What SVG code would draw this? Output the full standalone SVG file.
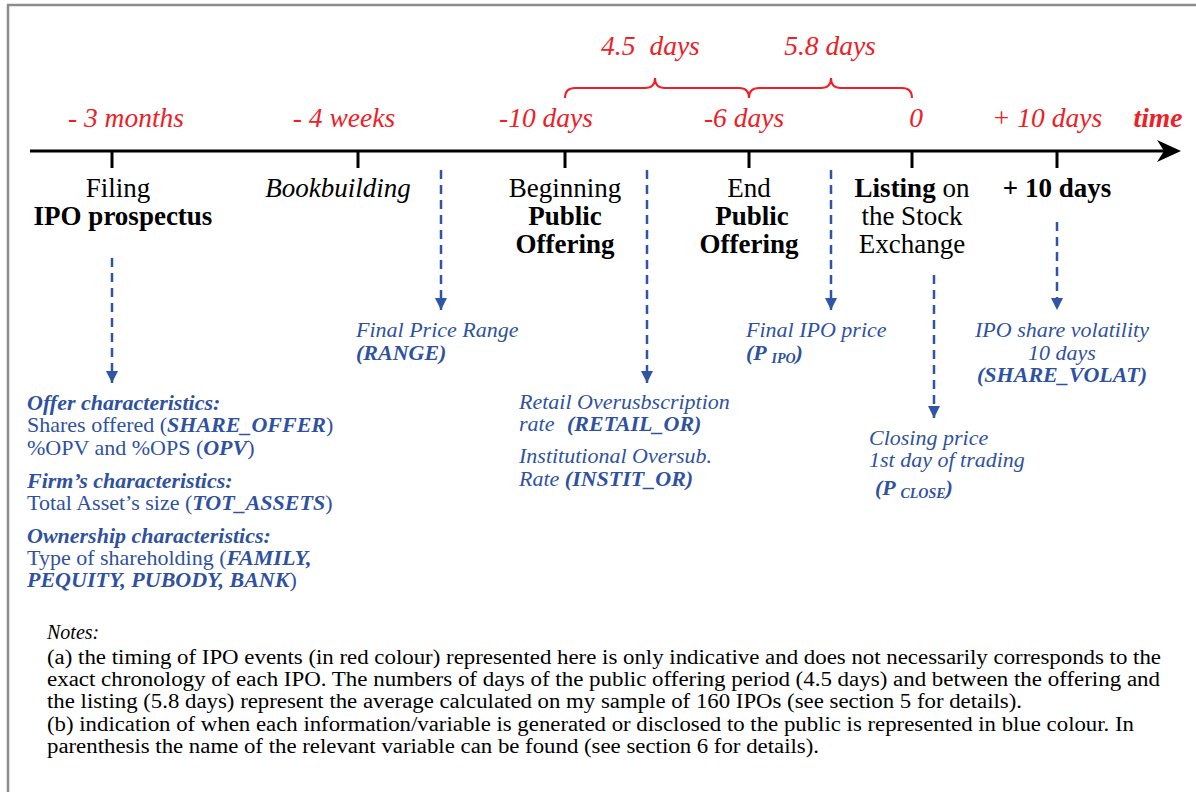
<svg xmlns="http://www.w3.org/2000/svg" width="1196" height="792" viewBox="0 0 1196 792">
<style>
.red{font-family:"Liberation Serif",serif;font-style:italic;font-size:27.5px;fill:#EE2026}
.blk{font-family:"Liberation Serif",serif;font-size:27px;fill:#000}
.b{font-weight:bold}
.i{font-style:italic}
.blu{font-family:"Liberation Serif",serif;font-size:22px;fill:#2F52A0}
.note{font-family:"Liberation Serif",serif;font-size:20px;fill:#000}
.dash{stroke:#2F55A4;stroke-width:2.5;stroke-dasharray:9 6;fill:none}
.tick{stroke:#000;stroke-width:3}
</style>
<defs>
<marker id="ah" viewBox="0 0 10 10" refX="10" refY="5" markerWidth="12" markerHeight="13" markerUnits="userSpaceOnUse" orient="auto">
<path d="M0,0 L10,5 L0,10 Z" fill="#2F55A4"/>
</marker>
</defs>
<rect width="1196" height="792" fill="#fff"/>
<path d="M8,792 L8,5 L1196,5" fill="none" stroke="#8C8C8C" stroke-width="2.5"/>

<g id="timeline">
<line x1="30" y1="151" x2="1168" y2="151" stroke="#000" stroke-width="3"/>
<path d="M1181,151 L1157,140 L1164,151 L1157,162 Z" fill="#000"/>
<line class="tick" x1="112" y1="151" x2="112" y2="168"/>
<line class="tick" x1="358" y1="151" x2="358" y2="168"/>
<line class="tick" x1="565" y1="151" x2="565" y2="168"/>
<line class="tick" x1="749" y1="151" x2="749" y2="168"/>
<line class="tick" x1="912" y1="151" x2="912" y2="168"/>
<line class="tick" x1="1057" y1="151" x2="1057" y2="168"/>
</g>

<g id="red-labels">
<text class="red" x="126" y="127" text-anchor="middle">- 3 months</text>
<text class="red" x="344" y="127" text-anchor="middle">- 4 weeks</text>
<text class="red" x="546" y="127" text-anchor="middle">-10 days</text>
<text class="red" x="744" y="127" text-anchor="middle">-6 days</text>
<text class="red" x="916" y="127" text-anchor="middle">0</text>
<text class="red" x="1047" y="127" text-anchor="middle">+ 10 days</text>
<text class="red b" x="1158" y="127" text-anchor="middle">time</text>
<text class="red" x="601" y="55">4.5<tspan dx="14">days</tspan></text>
<text class="red" x="830" y="55" text-anchor="middle">5.8 days</text>
</g>

<g id="braces">
<path d="M565,98 Q565,88 575,88 L645,88 Q655,88 655,78 Q655,88 665,88 L739,88 Q749,88 749,98 Q749,88 759,88 L821,88 Q831,88 831,78 Q831,88 841,88 L902,88 Q912,88 912,98" fill="none" stroke="#EE2026" stroke-width="2"/>
</g>

<g id="node-filing">
<text class="blk" x="118" y="197" text-anchor="middle">Filing</text>
<text class="blk b" x="123" y="225" text-anchor="middle">IPO prospectus</text>
</g>
<g id="node-bookbuilding">
<text class="blk i" x="338" y="197" text-anchor="middle">Bookbuilding</text>
</g>
<g id="node-beginning">
<text class="blk" x="565" y="197" text-anchor="middle">Beginning</text>
<text class="blk b" x="565" y="225" text-anchor="middle">Public</text>
<text class="blk b" x="565" y="253" text-anchor="middle">Offering</text>
</g>
<g id="node-end">
<text class="blk" x="749" y="197" text-anchor="middle">End</text>
<text class="blk b" x="752" y="225" text-anchor="middle">Public</text>
<text class="blk b" x="749" y="253" text-anchor="middle">Offering</text>
</g>
<g id="node-listing">
<text class="blk" x="912" y="197" text-anchor="middle"><tspan class="b">Listing</tspan> on</text>
<text class="blk" x="912" y="225" text-anchor="middle">the Stock</text>
<text class="blk" x="912" y="253" text-anchor="middle">Exchange</text>
</g>
<g id="node-plus10">
<text class="blk b" x="1057" y="197" text-anchor="middle">+ 10 days</text>
</g>

<g id="connectors">
<line class="dash" x1="112" y1="258" x2="112" y2="383" marker-end="url(#ah)"/>
<line class="dash" x1="441" y1="170" x2="441" y2="310" marker-end="url(#ah)"/>
<line class="dash" x1="647" y1="170" x2="647" y2="383" marker-end="url(#ah)"/>
<line class="dash" x1="831" y1="170" x2="831" y2="310" marker-end="url(#ah)"/>
<line class="dash" x1="934" y1="275" x2="934" y2="418" marker-end="url(#ah)"/>
<line class="dash" x1="1057" y1="222" x2="1057" y2="310" marker-end="url(#ah)"/>
</g>

<g id="info-range">
<text class="blu i" x="356" y="337">Final Price Range</text>
<text class="blu i b" x="356" y="360">(RANGE)</text>
</g>
<g id="info-prospectus">
<text class="blu i b" x="27" y="410">Offer characteristics:</text>
<text class="blu" x="27" y="432">Shares offered (<tspan class="i b">SHARE_OFFER</tspan>)</text>
<text class="blu" x="27" y="455">%OPV and %OPS (<tspan class="i b">OPV</tspan>)</text>
<text class="blu i b" x="27" y="488">Firm’s characteristics:</text>
<text class="blu" x="27" y="510">Total Asset’s size (<tspan class="i b">TOT_ASSETS</tspan>)</text>
<text class="blu i b" x="27" y="543">Ownership characteristics:</text>
<text class="blu" x="27" y="565">Type of shareholding (<tspan class="i b">FAMILY,</tspan></text>
<text class="blu" x="27" y="587"><tspan class="i b">PEQUITY, PUBODY, BANK</tspan>)</text>
</g>
<g id="info-oversub">
<text class="blu i" x="519" y="409">Retail Overusbscription</text>
<text class="blu i" x="519" y="431">rate <tspan class="b" dx="7">(RETAIL_OR)</tspan></text>
<text class="blu i" x="519" y="463">Institutional Oversub.</text>
<text class="blu i" x="519" y="486">Rate <tspan class="b">(INSTIT_OR)</tspan></text>
</g>
<g id="info-ipo-price">
<text class="blu i" x="746" y="337">Final IPO price</text>
<text class="blu i b" x="746" y="360">(P <tspan font-size="14" dy="3">IPO</tspan><tspan dy="-3">)</tspan></text>
</g>
<g id="info-volat">
<text class="blu i" x="1062" y="337" text-anchor="middle">IPO share volatility</text>
<text class="blu i" x="1062" y="360" text-anchor="middle">10 days</text>
<text class="blu i b" x="1062" y="382" text-anchor="middle">(SHARE_VOLAT)</text>
</g>
<g id="info-close">
<text class="blu i" x="869" y="445">Closing price</text>
<text class="blu i" x="869" y="467">1st day of trading</text>
<text class="blu i b" x="875" y="495">(P <tspan font-size="14" dy="3">CLOSE</tspan><tspan dy="-3">)</tspan></text>
</g>

<g id="notes">
<text class="note i" x="47" y="639">Notes:</text>
<text class="note" x="47" y="664" textLength="1114" lengthAdjust="spacingAndGlyphs">(a) the timing of IPO events (in red colour) represented here is only indicative and does not necessarily corresponds to the</text>
<text class="note" x="47" y="686" textLength="1113" lengthAdjust="spacingAndGlyphs">exact chronology of each IPO. The numbers of days of the public offering period (4.5 days) and between the offering and</text>
<text class="note" x="47" y="708" textLength="975" lengthAdjust="spacingAndGlyphs">the listing (5.8 days) represent the average calculated on my sample of 160 IPOs (see section 5 for details).</text>
<text class="note" x="47" y="731" textLength="1087" lengthAdjust="spacingAndGlyphs">(b) indication of when each information/variable is generated or disclosed to the public is represented in blue colour. In</text>
<text class="note" x="47" y="753" textLength="772" lengthAdjust="spacingAndGlyphs">parenthesis the name of the relevant variable can be found (see section 6 for details).</text>
</g>
</svg>
